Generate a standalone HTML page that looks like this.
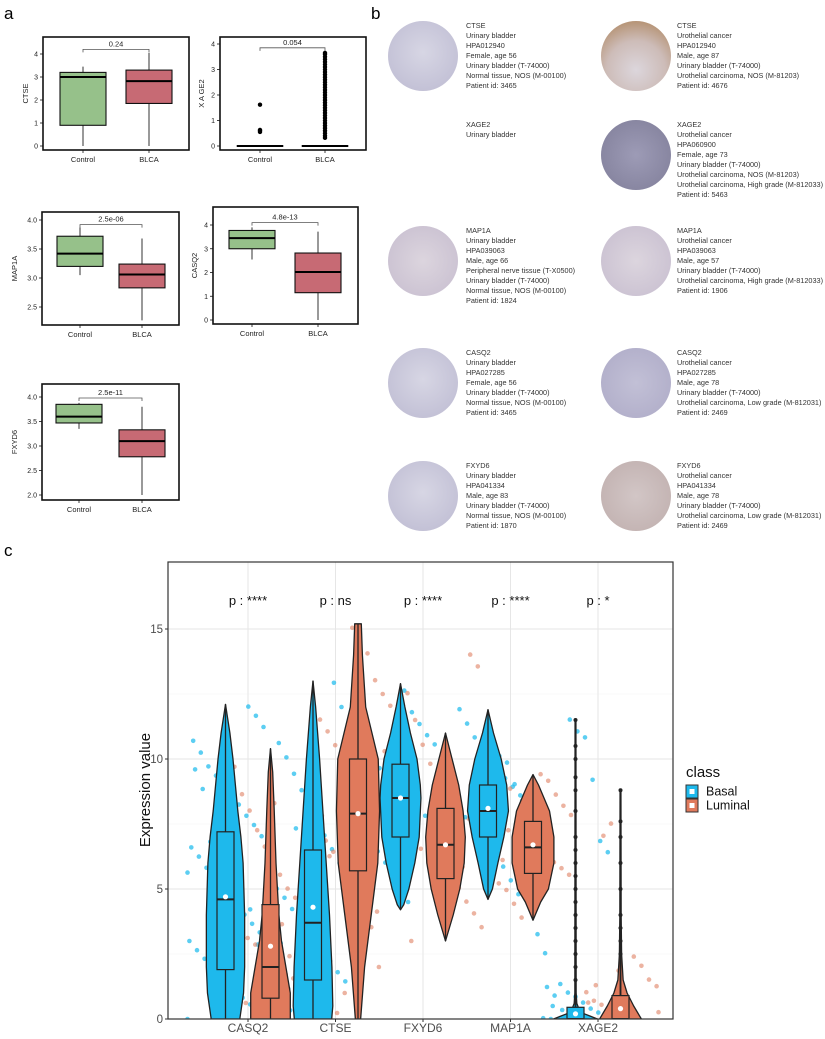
<!DOCTYPE html>
<html><head><meta charset="utf-8">
<style>
html,body{margin:0;padding:0;background:#fff;}
svg{display:block;font-family:"Liberation Sans",Arial,sans-serif;}
</style></head>
<body>
<svg id="fig" width="825" height="1039" viewBox="0 0 825 1039" xmlns="http://www.w3.org/2000/svg">
<defs>
<radialGradient id="gLav" cx="50%" cy="45%" r="55%"><stop offset="0" stop-color="#d7d6e4"/><stop offset="1" stop-color="#c3c1d6"/></radialGradient>
<radialGradient id="gBrown" cx="50%" cy="70%" r="70%"><stop offset="0" stop-color="#dcd6dc"/><stop offset="0.6" stop-color="#cdbcb8"/><stop offset="1" stop-color="#b69476"/></radialGradient>
<radialGradient id="gDark" cx="50%" cy="50%" r="55%"><stop offset="0" stop-color="#9d9bb6"/><stop offset="1" stop-color="#86849f"/></radialGradient>
<radialGradient id="gPink" cx="50%" cy="50%" r="55%"><stop offset="0" stop-color="#dcd5de"/><stop offset="1" stop-color="#cbc2d2"/></radialGradient>
<radialGradient id="gBlueL" cx="50%" cy="50%" r="55%"><stop offset="0" stop-color="#c2c0d6"/><stop offset="1" stop-color="#b2afca"/></radialGradient>
<radialGradient id="gTan" cx="50%" cy="50%" r="55%"><stop offset="0" stop-color="#d2c6c6"/><stop offset="1" stop-color="#c3b3b2"/></radialGradient>
<clipPath id="clipC"><rect x="168" y="562" width="505" height="457"/></clipPath>
</defs>
<text x="4" y="19" font-size="17">a</text>
<text x="371" y="19" font-size="17">b</text>
<text x="4" y="556" font-size="17">c</text>
<g id="panelA"></g>
<g id="panelB"></g>
<g id="panelC"></g>
</svg>
<script>
// ===== Panel a data =====
const aGenes = ["CTSE","XAGE2","MAP1A","CASQ2","FXYD6"];
const aPvals = ["0.24","0.054","2.5e-06","4.8e-13","2.5e-11"];
const aGroups = ["Control","BLCA"];
// [min,q1,median,q3,max]
const aControlStats = [[0,0.9,3.0,3.2,3.45],[0,0,0,0,0],[3.05,3.2,3.42,3.72,3.87],[2.55,3.0,3.45,3.77,3.9],[3.35,3.47,3.6,3.85,3.88]];
const aBlcaStats = [[0,1.85,2.82,3.3,4.05],[0,0,0,0,0],[2.27,2.83,3.06,3.24,3.68],[0,1.15,2.02,2.82,3.72],[2.0,2.78,3.1,3.33,3.8]];
const aControlOutliers = [[],[0.55,0.6,0.63,1.62],[],[],[]];
const aBlcaOutliers = [[],[0.32,0.4,0.5,0.6,0.7,0.8,0.9,1.0,1.1,1.2,1.3,1.4,1.5,1.6,1.7,1.8,1.9,2.0,2.1,2.2,2.3,2.4,2.5,2.6,2.7,2.8,2.9,3.0,3.1,3.2,3.3,3.4,3.5,3.6,3.65],[],[],[]];
const aBracketY = [4.2,3.85,3.92,4.1,3.98];
const aTicks = [[0,1,2,3,4],[0,1,2,3,4],[2.5,3.0,3.5,4.0],[0,1,2,3,4],[2.0,2.5,3.0,3.5,4.0]];
const aTickLabels = [["0","1","2","3","4"],["0","1","2","3","4"],["2.5","3.0","3.5","4.0"],["0","1","2","3","4"],["2.0","2.5","3.0","3.5","4.0"]];

// ===== Panel c data =====
const cGenes = ["CASQ2","CTSE","FXYD6","MAP1A","XAGE2"];
const cPLabels = ["p : ****","p : ns","p : ****","p : ****","p : *"];
const cYTicks = [0,5,10,15];
// violin profiles: [value, relative density]
const violinBasal = [
 [[0,0.65],[1,0.82],[2,0.87],[4,0.87],[6,0.8],[7,0.7],[8,0.56],[9,0.45],[10,0.34],[11,0.2],[12.1,0]],
 [[0,0.85],[0.5,0.9],[2,0.86],[4,0.75],[6,0.6],[8,0.45],[10,0.3],[12,0.12],[13,0]],
 [[4.2,0],[4.4,0.15],[5,0.38],[6,0.65],[7,0.85],[8.5,0.93],[9,0.9],[10,0.75],[11,0.45],[12,0.2],[12.9,0]],
 [[4.6,0],[5,0.2],[6,0.45],[7,0.72],[8,0.93],[9,0.85],[10,0.6],[11,0.25],[11.9,0]],
 [[0,1.0],[0.1,0.7],[0.2,0.4],[0.4,0.15],[0.6,0.06],[1,0.03],[11.5,0.02]]
];
const violinLuminal = [
 [[0,0.9],[1,0.9],[2,0.7],[3,0.5],[4,0.38],[6,0.25],[8,0.17],[9.5,0.1],[10.4,0]],
 [[0,0.12],[2,0.3],[4,0.6],[6,0.9],[8,0.98],[10,0.92],[12,0.35],[14,0.2],[15.2,0.15]],
 [[3,0],[4,0.35],[5,0.65],[6,0.85],[7,0.9],[8,0.8],[9,0.6],[10,0.3],[11,0]],
 [[3.8,0],[4.5,0.35],[5,0.7],[6,0.95],[7,0.95],[8,0.75],[9,0.25],[9.4,0]],
 [[0,0.95],[0.5,0.6],[1,0.3],[1.5,0.12],[2.5,0.05],[4,0.03],[8.8,0.02]]
];
// box stats [min,q1,median,q3,max], mean
const boxBasal = [[0,1.9,4.6,7.2,12.1],[0,1.5,3.7,6.5,13],[4.2,7.0,8.5,9.8,12.9],[4.6,7.0,8.0,9.0,11.9],[0,0,0,0.45,1.1]];
const boxLuminal = [[0,0.8,2.0,4.4,10.4],[0,5.7,7.9,10,15.2],[3,5.4,6.7,8.1,11],[3.8,5.6,6.6,7.6,9.4],[0,0,0,0.9,2.1]];
const meanBasal = [4.7,4.3,8.5,8.1,0.2];
const meanLuminal = [2.8,7.9,6.7,6.7,0.4];
const outBasal = [[],[],[],[],[1.5,2,2.5,3,3.5,4,4.5,5,5.5,6,6.5,7,8,8.8,9.3,10,10.5,11.5]];
const outLuminal = [[],[],[],[],[2.5,3,3.5,4,5,6,7,7.6,8.8]];
// jittered points (values)
const ptsBasal = [
 [0,0.3,0.5,0.8,1,1.2,1.5,2,2.3,2.6,3,3.3,3.6,4,4.4,4.8,5.2,5.5,5.8,6.2,6.6,7,7.4,7.8,8.2,8.6,9,9.3,9.7,10.2,10.7,11.2,11.6,12,0.6,1.8,3.8,5,6.8,8.8,9.6,5.6,2.8,4.2],
 [0,0.3,0.7,1,1.4,1.8,2.2,2.6,3,3.4,3.8,4.2,4.6,5,5.5,6,6.5,7,7.6,8.2,8.8,9.4,10,10.6,11.2,12,12.9,0.5,2,3.5,5.2,7.3,1.1,2.9],
 [4.5,5,5.5,6,6.4,6.8,7.2,7.5,7.8,8.1,8.4,8.7,9,9.3,9.6,9.9,10.2,10.5,10.9,11.3,11.8,12.6,6.6,7.9,8.6,9.4,10.8,8.2],
 [4.8,5.3,5.8,6.3,6.7,7.1,7.4,7.7,8,8.3,8.6,8.9,9.2,9.5,9.9,10.3,10.8,11.3,11.9,7.9,8.4,9,9.8,10.1],
 [0,0,0,0.1,0.2,0.4,0.6,0.8,1,1.3,0.5,2.5,3.2,6.4,6.8,9.2,10.8,11,11.5,0.3,0.9,1.2]
];
const ptsLuminal = [
 [0,0.2,0.4,0.6,0.9,1.1,1.3,1.5,1.7,2,2.2,2.5,2.8,3.1,3.4,3.8,4.2,4.6,5,5.5,6,6.6,7.2,8,8.6,9.7,0.3,1.2,2.4,3.6,8.3,5.8],
 [2,3.5,4.5,5,5.5,6,6.4,6.8,7.2,7.6,8,8.4,8.8,9.2,9.6,10,10.5,11,11.5,12,12.5,13,14,14.5,15,1,0.2,6.2,7.8,9,10.3,4.1],
 [3,3.5,4,4.5,5,5.3,5.6,5.9,6.2,6.5,6.8,7.1,7.4,7.7,8,8.4,8.8,9.3,9.8,10.5,11.5,12.5,13.5,14,5.8,6.9,4.8,6],
 [3.9,4.4,4.9,5.2,5.5,5.8,6,6.2,6.4,6.6,6.8,7,7.2,7.5,7.8,8.2,8.6,9.1,9.4,5.6,6.5,7.3,8.8,6.1],
 [0,0,0.1,0.3,0.5,0.7,1,1.2,1.5,2,2.4,0.8,1.8,7.5,7,1.3,0.6,0.2]
];

const NS="http://www.w3.org/2000/svg";
function mk(tag, attrs, parent, text){
  const e=document.createElementNS(NS,tag);
  for(const k in attrs) e.setAttribute(k, attrs[k]);
  if(text!==undefined) e.textContent=text;
  if(parent) parent.appendChild(e);
  return e;
}

// ===== Panel a =====
const A = document.getElementById('panelA');
const aLayout = [
 {x0:43,x1:189,y0:37,y1:150,v0:0,vy0:146,v1:4,vy1:54,cx:[83,149],lx:28},
 {x0:220,x1:366,y0:37,y1:150,v0:0,vy0:146,v1:4,vy1:44,cx:[260,325],lx:204},
 {x0:42,x1:179,y0:212,y1:325,v0:2.5,vy0:307,v1:4,vy1:220,cx:[80,142],lx:17},
 {x0:213,x1:358,y0:207,y1:324,v0:0,vy0:320,v1:4,vy1:225,cx:[252,318],lx:197},
 {x0:42,x1:179,y0:384,y1:500,v0:2,vy0:495,v1:4,vy1:397,cx:[79,142],lx:17}
];
aGenes.forEach((g,i)=>{
  const L=aLayout[i];
  const y=v=>L.vy0+(v-L.v0)*(L.vy1-L.vy0)/(L.v1-L.v0);
  const grp=mk('g',{},A);
  
  
  const frame=mk('rect',{x:L.x0,y:L.y0,width:L.x1-L.x0,height:L.y1-L.y0,fill:'#fff',stroke:'#111','stroke-width':1.6},grp);
  
  
  aTicks[i].forEach((t,k)=>{
    mk('line',{x1:L.x0-3,x2:L.x0,y1:y(t),y2:y(t),stroke:'#111','stroke-width':0.8},grp);
    const tl=mk('text',{x:L.x0-5,y:y(t)+2.5,'font-size':7,'text-anchor':'end',fill:'#222'},grp,aTickLabels[i][k]);
    
    
  });
  const yl=mk('text',{x:L.lx,y:(L.y0+L.y1)/2,'font-size':7.5,'text-anchor':'middle',fill:'#222',transform:`rotate(-90 ${L.lx} ${(L.y0+L.y1)/2})`},grp, g==="XAGE2"?"X A GE2":g);
  
  
  const stats=[aControlStats[i],aBlcaStats[i]];
  const outs=[aControlOutliers[i],aBlcaOutliers[i]];
  const fills=['#96c18a','#c76a74'];
  aGroups.forEach((gr,j)=>{
    const cx=L.cx[j], s=stats[j], hw=23;
    mk('line',{x1:cx,x2:cx,y1:L.y1,y2:L.y1+3,stroke:'#111','stroke-width':0.8},grp);
    const xl=mk('text',{x:cx,y:L.y1+12,'font-size':7.5,'text-anchor':'middle',fill:'#222'},grp,gr);
    
    
    mk('line',{x1:cx,x2:cx,y1:y(s[0]),y2:y(s[4]),stroke:'#333','stroke-width':1},grp);
    const b=mk('rect',{x:cx-hw,y:y(s[3]),width:2*hw,height:Math.max(0.01,y(s[1])-y(s[3])),fill:fills[j],stroke:'#111','stroke-width':1.1},grp);
    
    
    mk('line',{x1:cx-hw,x2:cx+hw,y1:y(s[2]),y2:y(s[2]),stroke:'#000','stroke-width':2},grp);
    outs[j].forEach(v=>{
      const o=mk('circle',{cx:cx,cy:y(v),r:2.2,fill:'#000'},grp);
      
      
    });
  });
  const by=y(aBracketY[i]);
  mk('path',{d:`M${L.cx[0]} ${by+3}V${by}H${L.cx[1]}V${by+3}`,fill:'none',stroke:'#555','stroke-width':0.8},grp);
  const pl=mk('text',{x:(L.cx[0]+L.cx[1])/2,y:by-3,'font-size':7.5,'text-anchor':'middle',fill:'#222'},grp,aPvals[i]);
  
  
});

// ===== Panel b =====
const B=document.getElementById('panelB');
const bRows=[
 {y:20, left:{fill:'gLav',lines:["CTSE","Urinary bladder","HPA012940","Female, age 56","Urinary bladder (T-74000)","Normal tissue, NOS (M-00100)","Patient id: 3465"]},
        right:{fill:'gBrown',lines:["CTSE","Urothelial cancer","HPA012940","Male, age 87","Urinary bladder (T-74000)","Urothelial carcinoma, NOS (M-81203)","Patient id: 4676"]}},
 {y:119, left:{fill:null,lines:["XAGE2","Urinary bladder"]},
        right:{fill:'gDark',lines:["XAGE2","Urothelial cancer","HPA060900","Female, age 73","Urinary bladder (T-74000)","Urothelial carcinoma, NOS (M-81203)","Urothelial carcinoma, High grade (M-812033)","Patient id: 5463"]}},
 {y:225, left:{fill:'gPink',lines:["MAP1A","Urinary bladder","HPA039063","Male, age 66","Peripheral nerve tissue (T-X0500)","Urinary bladder (T-74000)","Normal tissue, NOS (M-00100)","Patient id: 1824"]},
        right:{fill:'gPink',lines:["MAP1A","Urothelial cancer","HPA039063","Male, age 57","Urinary bladder (T-74000)","Urothelial carcinoma, High grade (M-812033)","Patient id: 1906"]}},
 {y:347, left:{fill:'gLav',lines:["CASQ2","Urinary bladder","HPA027285","Female, age 56","Urinary bladder (T-74000)","Normal tissue, NOS (M-00100)","Patient id: 3465"]},
        right:{fill:'gBlueL',lines:["CASQ2","Urothelial cancer","HPA027285","Male, age 78","Urinary bladder (T-74000)","Urothelial carcinoma, Low grade (M-812031)","Patient id: 2469"]}},
 {y:460, left:{fill:'gLav',lines:["FXYD6","Urinary bladder","HPA041334","Male, age 83","Urinary bladder (T-74000)","Normal tissue, NOS (M-00100)","Patient id: 1870"]},
        right:{fill:'gTan',lines:["FXYD6","Urothelial cancer","HPA041334","Male, age 78","Urinary bladder (T-74000)","Urothelial carcinoma, Low grade (M-812031)","Patient id: 2469"]}}
];
bRows.forEach((r,ri)=>{
  [['left',387,466],['right',600,677]].forEach(([side,ix,tx])=>{
    const d=r[side];
    const g=mk('g',{},B);
    
    
    if(d.fill){
      const c=mk('ellipse',{cx:ix+36,cy:r.y+36,rx:35,ry:35,fill:`url(#${d.fill})`},g);
      
      
    }
    d.lines.forEach((t,k)=>{
      const tt=mk('text',{x:tx,y:r.y+8+k*10,'font-size':7.3,fill:'#333'},g,t);
      
      
    });
  });
});

// ===== Panel c =====
const C=document.getElementById('panelC');
const PL=168, PR=673, PT=562, PB=1019;
const yC=v=>PB-26*v;
const xCat=i=>248+87.5*i;
const dodge=22.5, maxHW=22;
const colB='#1eb9ec', colL='#e07a5c', ptB='rgba(38,190,238,0.75)', ptL='rgba(224,128,98,0.6)';
const bg=mk('rect',{x:PL,y:PT,width:PR-PL,height:PB-PT,fill:'#fff'},C);


[2.5,7.5,12.5,17.5].forEach(v=>mk('line',{x1:PL,x2:PR,y1:yC(v),y2:yC(v),stroke:'#f2f2f2','stroke-width':0.6},C));
cYTicks.forEach(v=>{
  const gl=mk('line',{x1:PL,x2:PR,y1:yC(v),y2:yC(v),stroke:'#e6e6e6','stroke-width':1},C);
  
  
  mk('line',{x1:PL-3,x2:PL,y1:yC(v),y2:yC(v),stroke:'#333','stroke-width':1},C);
  const t=mk('text',{x:PL-5,y:yC(v)+4,'font-size':11.5,'text-anchor':'end',fill:'#4d4d4d'},C,String(v));
  
  
});
cGenes.forEach((g,i)=>{
  const gl=mk('line',{x1:xCat(i),x2:xCat(i),y1:PT,y2:PB,stroke:'#e6e6e6','stroke-width':1},C);
  
  
});
const plotG=mk('g',{'clip-path':'url(#clipC)'},C);
// points
function jit(i,k,s){ return (((i*53+k*37+s*19)%41)/40-0.5)*2; }
cGenes.forEach((g,i)=>{
  [[ptsBasal[i],ptB,-1,0],[ptsLuminal[i],ptL,1,1]].forEach(([arr,col,sgn,s])=>{
    arr.forEach((v,k)=>{
      const p=mk('circle',{cx:xCat(i)+sgn*dodge+jit(i,k,s)*38,cy:yC(v)-((k*7)%5)*0.4,r:2.3,fill:col},plotG);
      
      
    });
  });
});
// violins + boxes
function violin(cx,prof,col,name){
  let right=prof.map(([v,d])=>`${cx+d*maxHW},${yC(v)}`);
  let left=prof.slice().reverse().map(([v,d])=>`${cx-d*maxHW},${yC(v)}`);
  const p=mk('polygon',{points:right.concat(left).join(' '),fill:col,stroke:'#222','stroke-width':1.3,'stroke-linejoin':'round'},plotG);
  
  
}
function box(cx,s,mean,outs,col,name){
  const hw=8.5;
  mk('line',{x1:cx,x2:cx,y1:yC(s[0]),y2:yC(s[4]),stroke:'#222','stroke-width':1.3},plotG);
  const r=mk('rect',{x:cx-hw,y:yC(s[3]),width:2*hw,height:Math.max(1,yC(s[1])-yC(s[3])),fill:col,stroke:'#222','stroke-width':1.2},plotG);
  
  
  mk('line',{x1:cx-hw,x2:cx+hw,y1:yC(s[2]),y2:yC(s[2]),stroke:'#222','stroke-width':2},plotG);
  outs.forEach(v=>{
    const o=mk('circle',{cx:cx,cy:yC(v),r:2,fill:'#222'},plotG);
    
    
  });
  const m=mk('circle',{cx:cx,cy:yC(mean),r:2.6,fill:'#fff'},plotG);
  
  
}
cGenes.forEach((g,i)=>{
  violin(xCat(i)-dodge,violinBasal[i],colB,'violin-basal-'+g.toLowerCase());
  violin(xCat(i)+dodge,violinLuminal[i],colL,'violin-luminal-'+g.toLowerCase());
  if(i===4){
    mk('line',{x1:xCat(i)-dodge,x2:xCat(i)-dodge,y1:yC(0),y2:yC(11.5),stroke:'#222','stroke-width':1.8},plotG);
    mk('line',{x1:xCat(i)+dodge,x2:xCat(i)+dodge,y1:yC(0),y2:yC(8.8),stroke:'#222','stroke-width':1.8},plotG);
  }
  box(xCat(i)-dodge,boxBasal[i],meanBasal[i],outBasal[i],colB,'box-basal-'+g.toLowerCase());
  box(xCat(i)+dodge,boxLuminal[i],meanLuminal[i],outLuminal[i],colL,'box-luminal-'+g.toLowerCase());
  const pl=mk('text',{x:xCat(i),y:605,'font-size':13,'text-anchor':'middle',fill:'#111'},C,cPLabels[i]);
  
  
  mk('line',{x1:xCat(i),x2:xCat(i),y1:PB,y2:PB+3,stroke:'#333','stroke-width':1},C);
  const xl=mk('text',{x:xCat(i),y:1032,'font-size':12,'text-anchor':'middle',fill:'#4d4d4d'},C,g);
  
  
});
const border=mk('rect',{x:PL,y:PT,width:PR-PL,height:PB-PT,fill:'none',stroke:'#333','stroke-width':1.2},C);


const yt=mk('text',{x:150,y:790,'font-size':15,'text-anchor':'middle',fill:'#111',transform:'rotate(-90 150 790)'},C,'Expression value');


// legend
const lg=mk('g',{},C);


const lt=mk('text',{x:686,y:777,'font-size':15,fill:'#111'},lg,'class');


[['Basal',colB,785],['Luminal',colL,799]].forEach(([n,c,yy])=>{
  const k=mk('rect',{x:686,y:yy,width:12,height:13,fill:c,stroke:'#333','stroke-width':1},lg);
  
  
  mk('rect',{x:689.5,y:yy+4,width:5,height:5,fill:'#fff'},lg);
  const t=mk('text',{x:706,y:yy+10.5,'font-size':12.5,fill:'#111'},lg,n);
  
  
});
</script>
</body></html>
